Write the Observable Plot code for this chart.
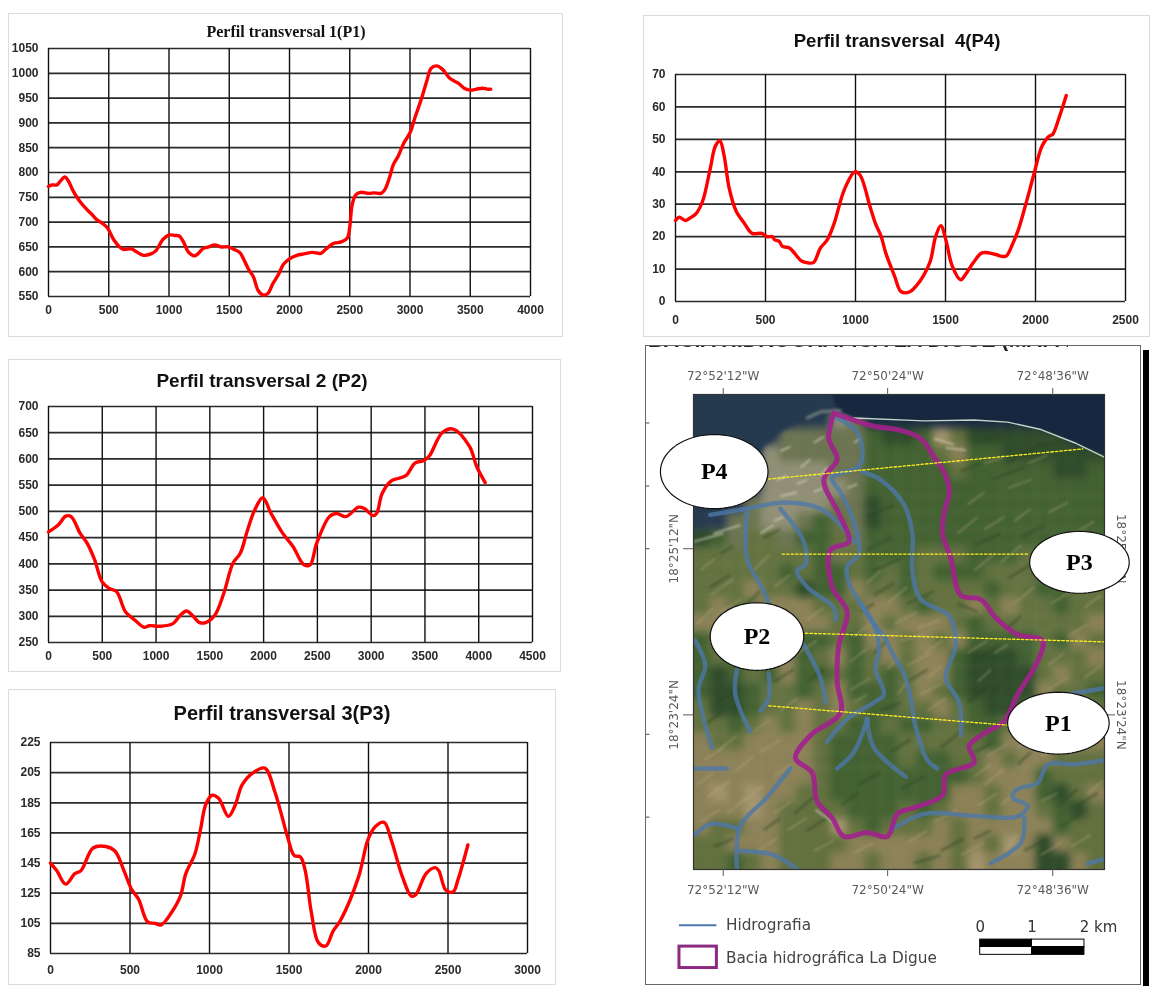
<!DOCTYPE html>
<html lang="pt">
<head>
<meta charset="utf-8">
<script src="https://cdn.jsdelivr.net/npm/d3@7"></script>
<script src="https://cdn.jsdelivr.net/npm/@observablehq/plot@0.6"></script>
<style>
html,body{margin:0;padding:0;background:#fff;}
#page{position:relative;width:1150px;height:986px;overflow:hidden;background:#fff;}
#page svg{position:absolute;background:transparent;overflow:visible;}
.box{position:absolute;box-sizing:border-box;border:1.5px solid #dcdcdc;}
.title{position:absolute;white-space:pre;transform:translateX(-50%);color:#111;font-weight:bold;filter:blur(.3px);}
</style>
</head>
<body>
<div id="page"></div>
<script>
// ---------- Profile 1 ----------
const p1X = [0,30,70,100,135,165,200,250,300,350,400,450,490,540,590,620,690,730,790,850,890,950,1000,1050,1085,1120,1160,1210,1240,1280,1330,1380,1430,1490,1540,1590,1620,1660,1700,1740,1780,1820,1860,1910,1950,2000,2060,2120,2190,2260,2300,2350,2380,2430,2480,2500,2520,2550,2590,2660,2700,2760,2790,2830,2860,2900,2950,3000,3040,3090,3140,3175,3220,3270,3330,3400,3450,3500,3550,3600,3640,3670];
const p1Y = [772,775,775,783,791,783,765,745,730,718,705,697,688,665,650,645,646,640,633,636,642,665,674,673,672,660,640,632,636,646,650,654,650,650,645,638,625,605,590,562,553,556,575,595,615,626,633,636,639,637,645,655,658,660,668,690,735,755,760,758,759,758,765,790,815,832,860,880,910,945,985,1010,1015,1008,990,980,970,966,968,970,968,968];
// ---------- Profile 2 ----------
const p2X = [0,90,160,210,295,360,430,497,565,633,717,802,888,938,1040,1157,1225,1282,1336,1404,1461,1546,1630,1715,1783,1850,1918,1992,2070,2172,2273,2375,2432,2493,2612,2679,2764,2882,2933,3018,3051,3102,3187,3322,3407,3491,3542,3660,3762,3914,3982,4060];
const p2Y = [461,474,491,490,458,439,407,366,353,347,308,293,279,282,281,286,302,310,302,288,288,302,344,401,420,464,503,526,496,460,433,398,398,439,490,496,490,508,506,492,496,534,558,568,592,597,606,650,657,624,585,555];
// ---------- Profile 3 ----------
const p3X = [0,39,96,153,192,268,348,405,462,508,554,611,657,696,760,817,851,908,943,977,1016,1057,1119,1160,1206,1275,1348,1412,1492,1533,1572,1602,1641,1686,1732,1778,1824,1938,1995,2041,2098,2144,2213,2270,2297,2362,2419,2442,2487,2533,2563,2625];
const p3Y = [145,140,131,138,140,155,156,153,140,128,121,106,105,104,112,123,138,151,167,184,190,188,176,183,197,205,208,192,162,150,149,140,112,92,90,100,107,136,160,169,172,160,136,123,124,138,142,140,127,126,134,157];
// ---------- Profile 4 ----------
const p4X = [0,21,55,88,113,151,193,222,247,270,298,336,384,426,480,508,537,552,575,594,633,652,700,728,766,805,843,881,938,996,1025,1082,1111,1143,1168,1216,1254,1302,1340,1378,1416,1445,1474,1502,1537,1584,1607,1655,1703,1779,1808,1837,1875,1904,1951,1990,2037,2076,2095,2133,2171];
const p4Y = [25,26,25,26,27,31,41,48,49.5,45,35,28,24,21,21,20,20,19,18.6,17,16.5,15.5,12.5,12,12,16.5,19,24,34.5,40,39,29,24,20,15,8,3,3,5,8,12.5,20,23.4,19,11,6.7,8,12,15,14.5,14,14,18,22,31,39,48,51,51.5,57,63.5];

// ---------- Map (values are read in a map grid over the picture) ----------
const terrainRows = [
"SSSSSSSSSSSSSSSSSSSSSSSS",
"BBBBBBBBUuSSSSSSSSSSSSSS",
"BBBBBuuuuuGDDGLODDDDDDSS",
"BBBBUuuuuuGGGGOTGGDDDDDD",
"BBBBUUUUuuGGGGGOGGGGGDDG",
"BBBBUUUUUuGGGGGGGGGGGGGG",
"BBBuUUUUuuDGGGGGGGGGGGGG",
"BBuuUUuGOuDGGGGGGGGGGGGG",
"DGuOOuGGOuGGGGGGGGGGGGGG",
"OOOOOOOGuOGGGOOOGGGOGGGG",
"OOOOOGOGGOGOGOGGGOOOGGGG",
"OOOTOODGGTOOGOOOOGOOGGOO",
"OTOOTTTOOOTTOGOOTOTOOGOO",
"TTOTOOTTOOTOTTTOGOOOOOOT",
"GOOOTTGGOGTTOTOTGGGGOGTO",
"GOGOOTGOTGOTOTTGDDDGOOOT",
"GDGOGTGGOGOGOTTGDDDDOTOO",
"GDDGOOGOTGGGOTOGDDDDTOOG",
"ODDGOOTOTOGGOOTOGDDGOTTO",
"OOGOTOTOOGGOGGOOGGOTTOOT",
"TOOTTTTOGGGGOOOOOGTTTOTT",
"TTTTTTTOGGGGOGGOOTOTTOOO",
"TTTTTTTOGGGGGGGGOTTTGOOO",
"TLTLTTOOGGGGGGGTTOTTGDOT",
"TTTLTOOOOGGGOGOTTOTTOGDO",
"TOOTTOOOLOGOOOTOTTTTTGOO",
"OOTTTOOOOTTTTTTOTOLTDTOO",
"OOGOTOOOTTOTTOTOLTTTDDTO"];
const terrainColors = {S:"#182a41",B:"#263a4f",U:"#8f8e74",u:"#6b7350",D:"#2d4a28",G:"#41602f",O:"#62703e",T:"#8b8056",L:"#a3946c"};

const seaDeep = [[100,60],[1450,60],[1450,305],[1390,280],[1300,250],[1200,218],[1100,200],[1000,195],[850,197],[640,190],[590,172],[560,60]];
const seaShallow = [[100,60],[560,60],[590,172],[520,185],[430,220],[370,260],[330,350],[250,410],[100,440]];
const foamLine = [[500,190],[540,175],[600,172]];
const coastLine = [[640,190],[850,197],[1000,195],[1100,200],[1200,218],[1300,250],[1390,285]];
const basinLine = [[580,178],[640,195],[700,210],[780,220],[840,240],[880,285],[915,330],[925,370],[910,420],[905,470],[930,530],[960,620],[1020,630],[1065,675],[1130,715],[1205,730],[1190,780],[1130,860],[1090,925],[1030,955],[985,985],[1000,1025],[915,1055],[905,1105],[820,1135],[770,1150],[740,1205],[680,1195],[610,1205],[575,1160],[530,1120],[515,1050],[465,1015],[510,960],[600,905],[590,830],[595,740],[620,660],[575,600],[570,510],[625,490],[600,430],[550,340],[590,290],[565,240],[580,178]];
const streamLines = [
  [[590,190],[650,225],[665,290],[650,310],[575,335],[600,370],[630,420],[650,470],[655,520],[620,550],[625,590],[660,640],[700,690],[730,720],[755,760],[790,810],[810,870],[825,940],[860,1020],[890,1040]],
  [[660,640],[700,690],[715,750],[705,800],[730,860],[700,880],[620,920],[560,975]],
  [[665,320],[720,340],[790,400],[815,470],[815,560],[840,630],[925,670],[945,740],[915,820],[955,880],[960,960]],
  [[680,920],[700,990],[795,1060]],
  [[680,920],[640,1000],[590,1040]],
  [[210,425],[320,410],[430,395],[540,410],[600,450],[640,490]],
  [[420,410],[490,490],[495,545],[470,560],[500,600],[580,650],[585,680]],
  [[320,420],[320,530],[370,610],[385,640]],
  [[490,740],[540,820],[555,880]],
  [[290,800],[285,860],[330,950]],
  [[385,810],[385,870],[360,900]],
  [[165,730],[195,790],[175,850],[215,990]],
  [[165,1040],[260,1040]],
  [[450,1040],[380,1110],[300,1180],[290,1285]],
  [[165,1200],[210,1175],[290,1185]],
  [[300,1240],[400,1250],[470,1285]],
  [[750,1190],[850,1150],[1000,1155],[1135,1155],[1160,1130],[1115,1110],[1130,1090],[1190,1075],[1220,1030],[1300,1030],[1390,1020]],
  [[1150,1160],[1140,1220],[1050,1270]],
  [[1280,860],[1390,845]],
  [[1340,1270],[1390,1260]]
];
const lightStreaks = [[680,590,720,560],[740,640,800,600],[760,690,830,660],[830,700,900,680],[780,730,850,715],[850,760,905,730],[800,790,870,760],[860,820,905,790],[840,860,900,835],[770,860,800,830],[860,900,915,870],[740,800,775,770],[640,720,690,690],[630,780,680,750],[630,850,690,820],[640,880,680,860],[980,760,1040,730],[1010,830,1050,800],[1060,760,1100,740],[1220,790,1270,760],[1280,720,1340,690],[1330,650,1380,620],[1230,640,1290,610],[1120,640,1180,600],[1000,560,1060,520],[1080,540,1140,500],[950,470,1010,430],[1030,460,1090,430],[1120,440,1170,410],[980,400,1030,370],[1100,360,1170,340],[1220,420,1280,395],[1300,470,1360,440],[1030,300,1090,285],[1160,300,1220,280],[180,560,240,520],[210,620,280,580],[340,560,390,520],[400,600,450,570],[170,690,220,650],[240,660,300,630],[500,680,550,650],[470,760,530,730],[190,1020,250,990],[280,1050,340,1010],[360,1000,420,970],[200,1110,270,1070],[310,1120,370,1080],[400,1060,450,1030],[180,1170,240,1140],[400,1150,450,1120],[340,950,390,920],[420,900,470,870],[440,1190,500,1160],[520,1240,580,1215],[640,1245,700,1220],[800,1220,860,1190],[880,1170,950,1140],[960,1250,1030,1220],[1040,1010,1100,980],[1130,990,1190,960],[1200,1010,1260,990],[1030,1080,1090,1040],[1010,1130,1070,1100],[1200,1120,1250,1100],[1340,1100,1385,1070],[1290,1230,1350,1200],[1200,1250,1260,1220],[1090,1240,1130,1200],[1320,980,1380,960],[1290,920,1340,890],[1220,850,1280,820],[1330,820,1380,790],[230,1000,290,960],[170,1080,220,1050],[260,1150,320,1110],[350,1240,410,1210],[1000,1060,1050,1030],[1080,1130,1120,1100]];
const darkStreaks = [[700,620,760,590],[700,760,740,730],[660,660,700,640],[800,640,880,610],[800,830,860,800],[720,900,780,880],[750,1000,810,970],[650,1080,720,1050],[600,1130,650,1100],[780,1090,850,1060],[900,990,960,950],[1000,780,1080,740],[1050,860,1110,810],[980,880,1040,840],[1100,700,1140,670],[950,640,1010,660],[1100,580,1180,540],[1220,560,1280,530],[210,600,270,570],[320,640,360,610],[230,880,290,850],[200,930,250,900],[400,830,460,800],[500,830,550,800],[460,1150,520,1110],[500,1190,560,1160],[370,1190,420,1160],[220,1230,280,1210],[1250,1130,1310,1090],[1260,1180,1320,1150],[1130,1030,1170,1000],[1000,1210,1050,1190],[1150,1240,1220,1210],[900,1240,970,1210],[820,1270,900,1250],[1100,300,1200,250],[1000,250,1100,230],[1180,260,1260,250],[1050,340,1150,310],[960,320,1020,300],[1000,500,1080,470],[1140,480,1210,450],[680,430,760,400],[680,510,750,480],[700,560,780,530],[220,530,280,500],[370,480,420,460],[1230,1000,1290,970],[1310,1130,1370,1100],[1000,1000,1050,980]];
const urbanStreaks = [[420,270,450,260],[480,310,510,290],[520,250,550,235],[470,350,500,340],[540,330,560,310],[410,340,440,330],[420,380,470,370],[520,370,545,360],[400,440,430,430],[360,470,400,450],[220,470,300,450],[160,490,250,470],[525,1140,585,1175],[915,262,975,268],[880,240,940,255],[620,360,650,350],[640,250,660,240]];
const sectionLines = [
  [[385,338],[1325,265]],
  [[425,520],[1165,520]],
  [[495,712],[1395,733]],
  [[385,888],[1100,935]]
];
const calloutNames = ["P4","P3","P2","P1"];
const calloutX = [222,1315,350,1252];
const calloutY = [320,540,720,930];
const calloutRX = [161,149,140,152];
const calloutRY = [90,75,82,75];
const lonTicks = [249,741,1235];
const lonLabels = ["72°52'12\"W","72°50'24\"W","72°48'36\"W"];
const latTicks = [507,910];
const latLabels = ["18°25'12\"N","18°23'24\"N"];
const strayTicks = [202,355,507,957,1158];
const scaleSegments = [[1018,1173,1455,1473,"#000"],[1173,1330,1455,1473,"#fff"],[1018,1173,1473,1492,"#fff"],[1173,1330,1473,1492,"#000"]];
const scaleLabels = [[1018,"0"],[1173,"1"],[1372,"2 km"]];

const page = document.getElementById("page");
function box(l,t,w,h){const d=document.createElement("div");d.className="box";d.style.cssText=`left:${l}px;top:${t}px;width:${w}px;height:${h}px`;page.append(d);return d;}
function title(text,cx,cy,font,size){const d=document.createElement("div");d.className="title";d.textContent=text;d.style.cssText=`left:${cx}px;top:${cy-size*0.6}px;font:bold ${size}px/1.2 ${font}`;page.append(d);}
const sans="'Liberation Sans',Arial,sans-serif";

function profile({X,Y,xMax,xStep,yMin,yMax,yStep,left,top,right,bottom,xPad}){
  const frameL=left-40, frameT=top-40;
  const xt=d3.range(0,xMax+1,xStep), yt=d3.range(yMin,yMax+1,yStep);
  const pts=X.map((x,i)=>({x,y:Y[i]}));
  const chart=Plot.plot({
    width:right-frameL+10,height:bottom-frameT+30,
    marginLeft:40,marginTop:40,marginRight:10,marginBottom:30,
    style:{fontFamily:sans,fontSize:"12px",fontWeight:"bold",color:"#2a2a2a",background:"transparent",overflow:"visible",filter:"blur(.35px)"},
    x:{domain:[0,xMax],label:null},
    y:{domain:[yMin,yMax],label:null},
    marks:[
      Plot.ruleY(yt,{stroke:"#2a2a2a",strokeWidth:1.7}),
      Plot.ruleX(xt,{stroke:"#111",strokeWidth:1.4}),
      Plot.axisX({ticks:xt,tickSize:0,tickPadding:xPad,tickFormat:d=>String(d),label:null}),
      Plot.axisY({ticks:yt,tickSize:0,tickPadding:10,tickFormat:d=>String(d),label:null}),
      Plot.line(pts,{x:"x",y:"y",stroke:"#ff0000",strokeWidth:3.4,curve:"catmull-rom"})
    ]
  });
  chart.style.left=frameL+"px";chart.style.top=frameT+"px";
  page.append(chart);
}

box(8,13,555,324);
box(8,359,553,313);
box(8,689,548,296);
box(643,15,507,322);
title("Perfil transversal 1(P1)",286,32,"'Liberation Serif',serif",16);
title("Perfil transversal 2 (P2)",262,381,sans,19);
title("Perfil transversal 3(P3)",282,713,sans,20);
title("Perfil transversal  4(P4)",897,41,sans,18.6);
profile({X:p1X,Y:p1Y,xMax:4000,xStep:500,yMin:550,yMax:1050,yStep:50,left:48,top:48,right:530,bottom:296,xPad:9});
profile({X:p2X,Y:p2Y,xMax:4500,xStep:500,yMin:250,yMax:700,yStep:50,left:48,top:406,right:532,bottom:642,xPad:9});
profile({X:p3X,Y:p3Y,xMax:3000,xStep:500,yMin:85,yMax:225,yStep:20,left:50,top:742,right:527,bottom:953,xPad:12});
profile({X:p4X,Y:p4Y,xMax:2500,xStep:500,yMin:0,yMax:70,yStep:10,left:675,top:74,right:1125,bottom:301,xPad:14});

// Map frame
const mapBox=box(645,345,496,640);
mapBox.style.border="1.5px solid #666";
const bar=document.createElement("div");
bar.style.cssText="position:absolute;left:1143px;top:350px;width:6px;height:636px;background:#000";
page.append(bar);
const cut=document.createElement("div");
cut.style.cssText="position:absolute;left:648px;top:346px;width:420px;height:5px;overflow:hidden;filter:blur(.5px)";
const cutText=document.createElement("div");
cutText.textContent="BACIA HIDROGRÁFICA LA DIGUE (MAPA)";
cutText.style.cssText=`position:absolute;left:0;bottom:0;white-space:pre;font:bold 21.5px/22px ${sans};color:#222`;
cut.append(cutText);page.append(cut);

const cols=terrainRows[0].length, rows=terrainRows.length, cw=(1390-160)/cols, ch=(1285-133)/rows;
const cells=terrainRows.flatMap((row,r)=>[...row].map((k,c)=>({
  x1:c===0?100:160+c*cw, x2:c===cols-1?1450:160+(c+1)*cw,
  y1:r===0?60:133+r*ch, y2:r===rows-1?1360:133+(r+1)*ch, fill:terrainColors[k]})));
const toPts=(arr,id)=>arr.map(([x,y])=>({x,y,id}));
const streams=streamLines.flatMap((l,i)=>toPts(l,i));
const sections=sectionLines.flatMap((l,i)=>toPts(l,i));
const ellipses=calloutNames.flatMap((n,i)=>d3.range(0,72).map(k=>({id:n,x:calloutX[i]+calloutRX[i]*Math.cos(k/72*2*Math.PI),y:calloutY[i]+calloutRY[i]*Math.sin(k/72*2*Math.PI)})));
const callouts=calloutNames.map((n,i)=>({n,x:calloutX[i],y:calloutY[i]}));
const dejavu="'DejaVu Sans',Verdana,sans-serif";
const streak=(arr,stroke,strokeWidth,strokeOpacity)=>Plot.link(arr,{x1:d=>d[0],y1:d=>d[1],x2:d=>d[2],y2:d=>d[3],stroke,strokeWidth,strokeOpacity,clip:"frame",imageFilter:"blur(1.2px)"});

const map=Plot.plot({
  width:496,height:640,marginLeft:48,marginRight:37,marginTop:49,marginBottom:116,
  style:{fontFamily:dejavu,fontSize:"12px",color:"#5a5a5a",background:"transparent",overflow:"visible",filter:"blur(.4px)"},
  x:{domain:[160,1390],label:null},
  y:{domain:[133,1285],reverse:true,label:null},
  marks:[
    Plot.rect(cells,{x1:"x1",x2:"x2",y1:"y1",y2:"y2",fill:d=>d.fill,clip:"frame",imageFilter:"blur(4.5px)"}),
    streak(darkStreaks,"#2a4323",3,.4),
    streak(lightStreaks,"#b7a97f",2,.38),
    streak(urbanStreaks,"#d8d4c0",2,.6),
    Plot.line(toPts(seaShallow,0),{x:"x",y:"y",fill:"#263a4f",stroke:"none",clip:"frame",imageFilter:"blur(2px)"}),
    Plot.line(toPts(seaDeep,0),{x:"x",y:"y",fill:"#16273f",stroke:"none",clip:"frame",imageFilter:"blur(1.5px)"}),
    Plot.line(toPts(foamLine,0),{x:"x",y:"y",stroke:"#7d8c88",strokeWidth:2.5,clip:"frame",imageFilter:"blur(1.5px)"}),
    Plot.line(toPts(coastLine,0),{x:"x",y:"y",stroke:"#c4d2c8",strokeWidth:1.4,clip:"frame"}),
    Plot.line(streams,{x:"x",y:"y",z:"id",stroke:"#4d78aa",strokeWidth:4.4,strokeOpacity:.78,curve:"catmull-rom",clip:"frame"}),
    Plot.line(toPts(basinLine,0),{x:"x",y:"y",stroke:"#a3218d",strokeWidth:5,strokeOpacity:.9,strokeLinejoin:"round",curve:"catmull-rom",clip:"frame"}),
    Plot.line(sections,{x:"x",y:"y",z:"id",stroke:"#ffee22",strokeWidth:1.3,strokeDasharray:"2.5,2"}),
    Plot.frame({stroke:"#333",strokeWidth:1.2}),
    Plot.axisX({anchor:"top",ticks:lonTicks,tickFormat:(d,i)=>lonLabels[i],tickSize:7,tickPadding:8,label:null}),
    Plot.axisX({anchor:"bottom",ticks:lonTicks,tickFormat:(d,i)=>lonLabels[i],tickSize:7,tickPadding:9,label:null}),
    Plot.axisY({anchor:"left",ticks:latTicks,tickFormat:(d,i)=>latLabels[i],tickSize:10,tickRotate:-90,tickPadding:6,label:null}),
    Plot.axisY({anchor:"right",ticks:latTicks,tickFormat:(d,i)=>latLabels[i],tickSize:10,tickRotate:90,tickPadding:11,label:null}),
    Plot.link(strayTicks,{x1:18,x2:28,y1:d=>d,y2:d=>d,stroke:"#444",strokeWidth:1}),
    Plot.line(ellipses,{x:"x",y:"y",z:"id",fill:"#fff",stroke:"#111",strokeWidth:1.2,curve:"linear-closed"}),
    Plot.text(callouts,{x:"x",y:"y",text:"n",fontFamily:"'Liberation Serif',serif",fontWeight:"bold",fontSize:24,fill:"#000"}),
    Plot.ruleY([1420],{x1:118,x2:230,stroke:"#4d78aa",strokeWidth:2}),
    Plot.rect([[118,230,1472,1524]],{x1:d=>d[0],x2:d=>d[1],y1:d=>d[2],y2:d=>d[3],fill:"#fff",stroke:"#8b2a80",strokeWidth:3}),
    Plot.text(["Hidrografia"],{x:257,y:1420,text:d=>d,textAnchor:"start",fontFamily:dejavu,fontSize:15.3,fill:"#444"}),
    Plot.text(["Bacia hidrográfica La Digue"],{x:257,y:1500,text:d=>d,textAnchor:"start",fontFamily:dejavu,fontSize:15.3,fill:"#444"}),
    Plot.rect(scaleSegments,{x1:d=>d[0],x2:d=>d[1],y1:d=>d[2],y2:d=>d[3],fill:d=>d[4],stroke:"#000",strokeWidth:1}),
    Plot.text(scaleLabels,{x:d=>d[0],y:1424,text:d=>d[1],fontFamily:dejavu,fontSize:15,fill:"#333"})
  ]
});
map.style.left="645px";map.style.top="345px";
page.append(map);
</script>
</body>
</html>
